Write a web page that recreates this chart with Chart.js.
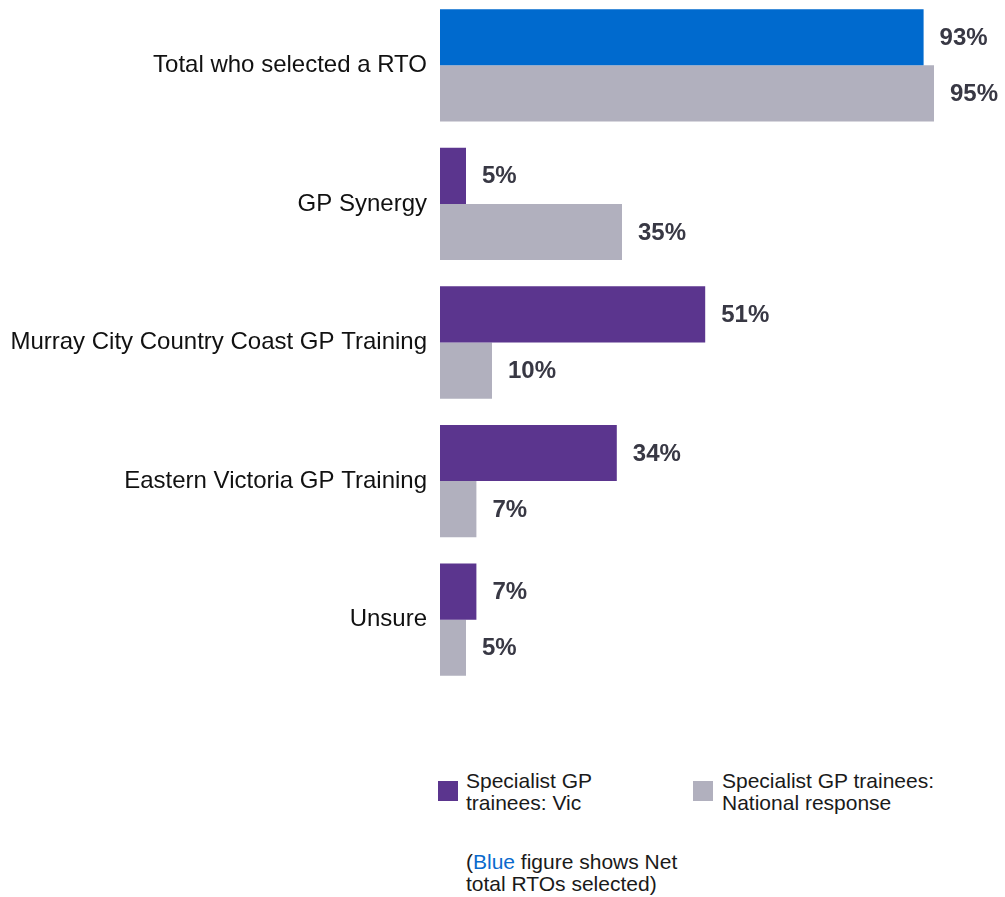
<!DOCTYPE html>
<html>
<head>
<meta charset="utf-8">
<script src="https://cdn.jsdelivr.net/npm/chart.js@4/dist/chart.umd.min.js"></script>
<style>
  body { margin: 0; background: #fff; font-family: "Liberation Sans", Arial, sans-serif; }
  #wrap { position: absolute; left: 0; top: -4px; width: 1005px; height: 693px; }
  .legend { position: absolute; font-size: 21px; line-height: 22px; color: #1a1a1a; }
  .swatch { position: absolute; width: 20px; height: 20px; }
</style>
</head>
<body>
<div id="wrap"><canvas id="rtoChart"></canvas></div>

<div class="swatch" style="left:438px; top:781px; background:#5B358E;"></div>
<div class="legend" style="left:466px; top:770px;">Specialist GP<br>trainees: Vic</div>
<div class="swatch" style="left:693px; top:781px; background:#B1B0BE;"></div>
<div class="legend" style="left:722px; top:770px;">Specialist GP trainees:<br>National response</div>
<div class="legend" style="left:466px; top:851px;">(<span style="color:#0A6ACD">Blue</span> figure shows Net<br>total RTOs selected)</div>

<script>
const categories = ["Total who selected a RTO", "GP Synergy", "Murray City Country Coast GP Training", "Eastern Victoria GP Training", "Unsure"];
const vicValues = [93, 5, 51, 34, 7];
const nationalValues = [95, 35, 10, 7, 5];

const purple = "#5B358E";
const blue = "#006ACE";
const grey = "#B1B0BE";

// value labels to the right of each bar
const barLabels = {
  id: "barLabels",
  afterDatasetsDraw(chart) {
    const ctx = chart.ctx;
    ctx.save();
    ctx.font = "bold 24px 'Liberation Sans', Arial, sans-serif";
    ctx.fillStyle = "#383844";
    ctx.textBaseline = "middle";
    ctx.textAlign = "left";
    chart.data.datasets.forEach((ds, i) => {
      chart.getDatasetMeta(i).data.forEach((bar, j) => {
        ctx.fillText(ds.data[j] + "%", bar.x + 16, bar.y + 1);
      });
    });
    ctx.restore();
  }
};

const ctx = document.getElementById("rtoChart").getContext("2d");
new Chart(ctx, {
  type: "bar",
  data: {
    labels: categories,
    datasets: [
      {
        label: "Specialist GP trainees: Vic",
        data: vicValues,
        backgroundColor: vicValues.map((v, i) => i === 0 ? blue : purple),
        categoryPercentage: 0.81,
        barPercentage: 1
      },
      {
        label: "Specialist GP trainees: National response",
        data: nationalValues,
        backgroundColor: grey,
        categoryPercentage: 0.81,
        barPercentage: 1
      }
    ]
  },
  options: {
    indexAxis: "y",
    responsive: true,
    maintainAspectRatio: false,
    animation: false,
    layout: { padding: { top: 0, bottom: 0, left: 0, right: 45 } },
    plugins: {
      legend: { display: false },
      tooltip: { enabled: false }
    },
    scales: {
      x: { display: false, min: 0, max: 100 },
      y: {
        grid: { display: false, drawTicks: false },
        border: { display: false },
        ticks: {
          padding: 13,
          color: "#111",
          font: { family: "'Liberation Sans', Arial, sans-serif", size: 24 }
        },
        afterFit(scale) {
          scale.width = 440;
          scale.paddingTop = 0;
          scale.paddingBottom = 0;
        }
      }
    }
  },
  plugins: [barLabels]
});
</script>
</body>
</html>
